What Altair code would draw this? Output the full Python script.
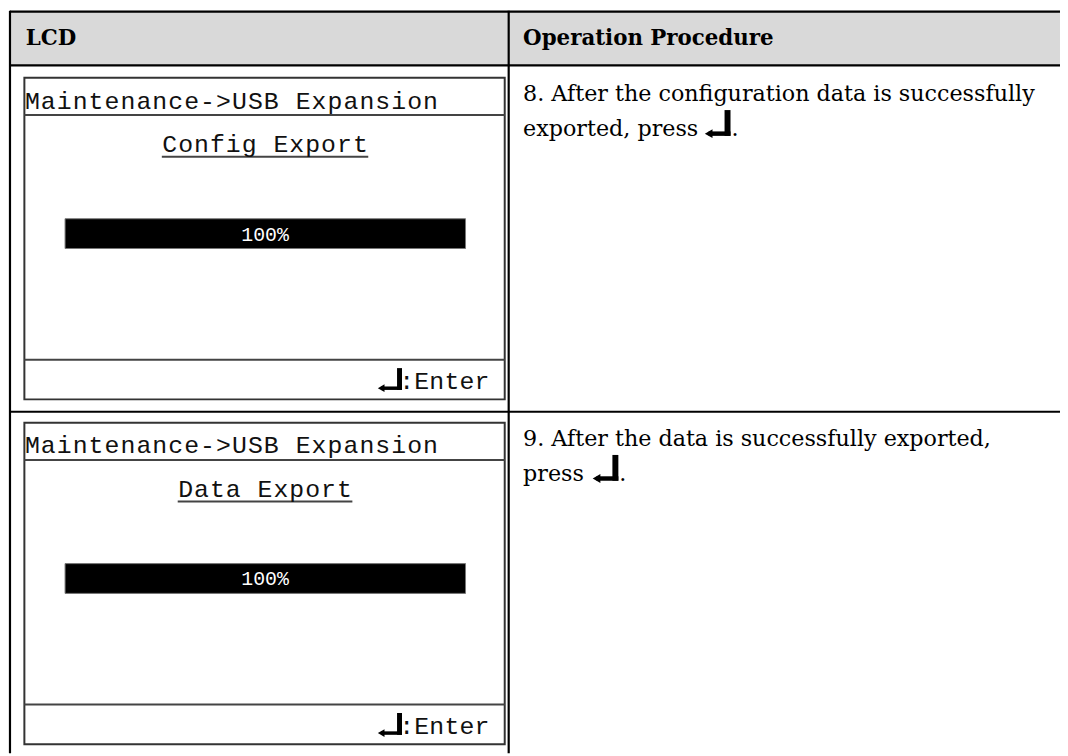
import altair as alt
import pandas as pd

# ---------------- content ----------------
HEADERS = ["LCD", "Operation Procedure"]
LCD_BREADCRUMB = ["Maintenance->USB Expansion", "Maintenance->USB Expansion"]
LCD_TITLE = ["Config Export", "Data Export"]
PROGRESS = [100, 100]
PROGRESS_LABEL = ["100%", "100%"]
LCD_FOOTER = [":Enter", ":Enter"]
STEP_LINE1 = ["8. After the configuration data is successfully",
              "9. After the data is successfully exported,"]
STEP_LINE2 = ["exported, press", "press"]
STEP_END = [".", "."]

# ---------------- layout (page pixels) ----------------
X0, X1 = 8, 1068
Y0, Y1 = 8, 756
ROW_OFF = [0, 347.5]
COL_X = 512.5
LCD_L, LCD_R = 24.5, 508.5
BAR_L, BAR_R = 65.5, 469
ICON_TXT_XR = [736, 623]   # right edge of the enter icon in the procedure text

def explode(s, left, pitch, y, grp):
    return [dict(ch=c, x=left + pitch * (i + 0.5), y=y, g=grp)
            for i, c in enumerate(s) if c != " "]

rects, rules, tris, mono, pct, serif, bold = [], [], [], [], [], [], []

# header
rects.append(dict(x=10, x2=X1, y=Y0, y2=63, fill="#d9d9d9", stroke="#d9d9d9", sw=0))
bold.append(dict(t=HEADERS[0], x=26, y=42))
bold.append(dict(t=HEADERS[1], x=527, y=42))

# table grid
for (xa, xb, ya, yb) in [(10, X1, 8.8, 8.8), (10, X1, 63, 63), (10, X1, 412, 412),
                         (10, 10, Y0, Y1), (COL_X, COL_X, Y0, Y1)]:
    rules.append(dict(x=xa, x2=xb, y=ya, y2=yb, c="#000000", sw=2.2))

def enter_icon(xr, yb, h, L, t, t2, tri):
    rules.append(dict(x=xr - t / 2, x2=xr - t / 2, y=yb - h, y2=yb, c="#000000", sw=t))
    rules.append(dict(x=xr - L, x2=xr, y=yb - t2 / 2, y2=yb - t2 / 2, c="#000000", sw=t2))
    tris.append(dict(x=xr - L, y=yb - t2 / 2, s=tri))

for r in range(2):
    o = ROW_OFF[r]
    # LCD frame
    rects.append(dict(x=LCD_L, x2=LCD_R, y=75.5 + o, y2=399.5 + o, fill="#ffffff", stroke="#333333", sw=2))
    mono += explode(LCD_BREADCRUMB[r], 24.5, 16.05, 106.5 + o, "b")
    rules.append(dict(x=LCD_L, x2=LCD_R, y=113 + o, y2=113 + o, c="#444444", sw=2))
    n = len(LCD_TITLE[r])
    tl = 267 - n * 8
    mono += explode(LCD_TITLE[r], tl, 16, 150 + o, "t")
    rules.append(dict(x=tl, x2=tl + n * 16, y=155 + o, y2=155 + o, c="#444444", sw=2))
    # progress bar
    bx2 = BAR_L + (BAR_R - BAR_L) * PROGRESS[r] / 100
    rects.append(dict(x=BAR_L, x2=bx2, y=217.5 + o, y2=247.5 + o, fill="#000000", stroke="#777777", sw=1))
    pct += explode(PROGRESS_LABEL[r], 267 - 24, 12, 239.5 + o, "p")
    # footer
    rules.append(dict(x=LCD_L, x2=LCD_R, y=359.5 + o, y2=359.5 + o, c="#444444", sw=2))
    mono += explode(LCD_FOOTER[r], 402, 15.2, 389 + o, "f")
    enter_icon(405, 390 + o, 22, 21, 5, 3.5, 60)
    # procedure text
    serif.append(dict(t=STEP_LINE1[r], x=527, y=99 + o))
    serif.append(dict(t=STEP_LINE2[r], x=527, y=134 + o))
    xr = ICON_TXT_XR[r]
    enter_icon(xr, 134 + o, 26, 22, 6, 4.5, 80)
    serif.append(dict(t=STEP_END[r], x=xr + 1, y=134 + o))

X = lambda f="x": alt.X(f"{f}:Q", scale=alt.Scale(domain=[X0, X1], nice=False, zero=False), axis=None)
Y = lambda f="y": alt.Y(f"{f}:Q", scale=alt.Scale(domain=[Y0, Y1], reverse=True, nice=False, zero=False), axis=None)

rect_layer = alt.Chart(pd.DataFrame(rects)).mark_rect().encode(
    x=X(), x2="x2:Q", y=Y(), y2="y2:Q",
    fill=alt.Fill("fill:N", scale=None), stroke=alt.Stroke("stroke:N", scale=None),
    strokeWidth=alt.StrokeWidth("sw:Q", scale=None))

rule_layer = alt.Chart(pd.DataFrame(rules)).mark_rule(strokeCap="butt").encode(
    x=X(), x2="x2:Q", y=Y(), y2="y2:Q",
    color=alt.Color("c:N", scale=None), strokeWidth=alt.StrokeWidth("sw:Q", scale=None))

tri_layer = alt.Chart(pd.DataFrame(tris)).mark_point(
    shape="triangle-left", filled=True, color="#000000", opacity=1).encode(
    x=X(), y=Y(), size=alt.Size("s:Q", scale=None))

mono_layer = alt.Chart(pd.DataFrame(mono)).mark_text(
    font="Liberation Mono", fontSize=25, align="center", baseline="alphabetic", color="#111111").encode(
    x=X(), y=Y(), text="ch:N")

pct_layer = alt.Chart(pd.DataFrame(pct)).mark_text(
    font="Liberation Mono", fontSize=20, align="center", baseline="alphabetic", color="#ffffff").encode(
    x=X(), y=Y(), text="ch:N")

serif_layer = alt.Chart(pd.DataFrame(serif)).mark_text(
    font="DejaVu Serif", fontSize=22.4, align="left", baseline="alphabetic", color="#000000").encode(
    x=X(), y=Y(), text="t:N")

bold_layer = alt.Chart(pd.DataFrame(bold)).mark_text(
    font="DejaVu Serif", fontSize=21.5, fontWeight="bold", align="left", baseline="alphabetic",
    color="#000000").encode(x=X(), y=Y(), text="t:N")

chart = alt.layer(rect_layer, rule_layer, tri_layer, mono_layer, pct_layer, serif_layer, bold_layer).properties(
    width=X1 - X0, height=Y1 - Y0, padding=0, background="#ffffff",
    autosize=alt.AutoSizeParams(type="none")
).configure_view(strokeWidth=0)

chart.save("out.html", embed_options={"renderer": "svg", "actions": False})
